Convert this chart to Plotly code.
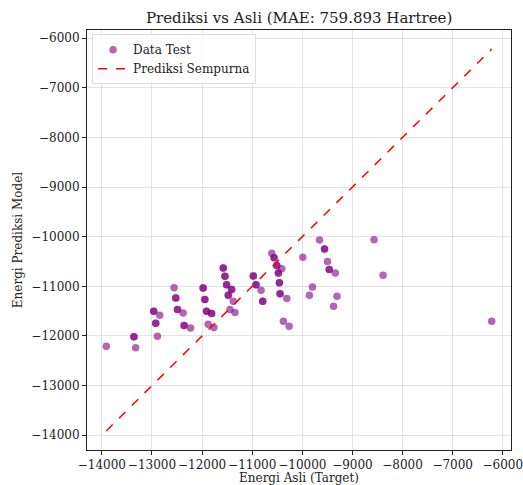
import plotly.graph_objects as go

# Data (duplicates reproduce darker overlapping points)
target = [
    -13912, -13360, -13360, -13326, -12965, -12965, -12845, -12925, -12925, -12891,
    -12559, -12525, -12525, -12491, -12491, -12379, -12359, -12359, -12231,
    -11979, -11979, -11945, -11945, -11911, -11911, -11811, -11811, -11879, -11765,
    -11578, -11578, -11544, -11544, -11511, -11511, -11411, -11411, -11478, -11478,
    -11378, -11444, -11344,
    -10978, -10978, -10924, -10924, -10824, -10790, -10790,
    -10610, -10564, -10564, -10510, -10510, -10410, -10478, -10478, -10458, -10458,
    -10444, -10444, -10310, -10378, -10264,
    -9990, -9798, -9858, -9657, -9557, -9557, -9497, -9463, -9463, -9343, -9309, -9377,
    -8569, -8389, -6221,
]
prediksi = [
    -12205, -12014, -12014, -12239, -11502, -11502, -11582, -11743, -11743, -12004,
    -11026, -11235, -11235, -11468, -11468, -11536, -11789, -11789, -11837,
    -11034, -11034, -11267, -11267, -11502, -11502, -11548, -11548, -11763, -11829,
    -10633, -10633, -10799, -10799, -10966, -10966, -11066, -11066, -11181, -11181,
    -11301, -11468, -11528,
    -10793, -10793, -10966, -10966, -11080, -11301, -11301,
    -10331, -10424, -10424, -10578, -10578, -10645, -10733, -10733, -10926, -10926,
    -11147, -11147, -11247, -11703, -11803,
    -10412, -11014, -11181, -10066, -10247, -10247, -10498, -10659, -10659, -10733, -11201, -11402,
    -10060, -10779, -11703,
]
mae_text = "759.893"
title_text = f"Prediksi vs Asli (MAE: {mae_text} Hartree)"
x_label = "Energi Asli (Target)"
y_label = "Energi Prediksi Model"

lo, hi = min(target), max(target)
pad = (hi - lo) * 0.05
rng = [lo - pad, hi + pad]

FONT = "DejaVu Serif"

fig = go.Figure()
fig.add_trace(go.Scatter(
    x=target, y=prediksi, mode="markers", name="Data Test",
    marker=dict(color="rgba(128,0,128,0.6)", size=7.5, line=dict(width=0)),
))
fig.add_trace(go.Scatter(
    x=[lo, hi], y=[lo, hi], mode="lines", name="Prediksi Sempurna",
    line=dict(color="red", dash="dash", width=1.5),
))

axis_common = dict(
    range=rng, dtick=1000, tick0=0, tickformat="d", tickangle=0, automargin=False,
    ticklabeloverflow="allow",
    showgrid=True, gridcolor="rgba(176,176,176,0.35)", gridwidth=1,
    zeroline=False, showline=True, linecolor="#222", linewidth=1, mirror=True,
    ticks="outside", ticklen=4, tickcolor="#222",
    tickfont=dict(family=FONT, size=12, color="#222"),
    title_font=dict(family=FONT, size=12, color="#222"),
)

fig.update_layout(
    width=523, height=485,
    margin=dict(l=87, r=12, t=30, b=35),
    paper_bgcolor="white", plot_bgcolor="white",
    font=dict(family=FONT, color="#222"),
    title=dict(text=title_text, x=0.572, xanchor="center", y=0.964, yanchor="middle",
               font=dict(family=FONT, size=15, color="#222")),
    xaxis=dict(title=dict(text=x_label, standoff=6), **axis_common),
    yaxis=dict(title=dict(text=y_label, standoff=6), **axis_common),
    legend=dict(x=0.012, y=0.99, xanchor="left", yanchor="top",
                bgcolor="rgba(255,255,255,0.8)", bordercolor="#ddd", borderwidth=1,
                font=dict(family=FONT, size=12, color="#222"), tracegroupgap=0,
                itemwidth=30),
    showlegend=True,
)

fig.write_html("out.html", config={"displayModeBar": False},
               post_script="document.body.style.margin='0';")
